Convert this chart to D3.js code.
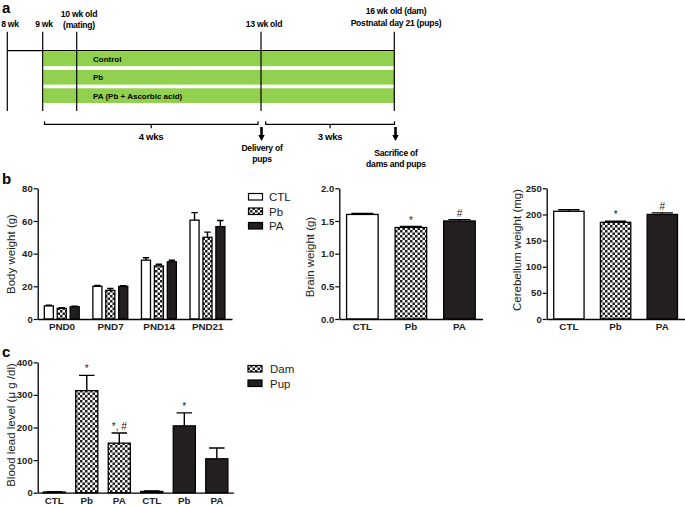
<!DOCTYPE html>
<html><head><meta charset="utf-8">
<script src="https://cdn.jsdelivr.net/npm/d3@7"></script>
<style>body{margin:0;background:#fff}svg{display:block}text{font-family:"Liberation Sans",Arial,sans-serif}</style>
</head><body><svg id="c" width="685" height="506"></svg>
<script>
// ---- data ----
const groups = ["CTL","Pb","PA"];
const pndDays = ["PND0","PND7","PND14","PND21"];
const bodyCTL = [8, 20, 36, 60.5];
const bodyPb  = [6.5, 17.5, 32.5, 50];
const bodyPA  = [7.5, 20, 35, 56.5];
const bodyErrCTL = [0.4, 0.5, 1.5, 4.6];
const bodyErrPb  = [0.4, 1.2, 1.0, 3.2];
const bodyErrPA  = [0.3, 0.4, 1.0, 3.8];
const brainVals = [1.6, 1.4, 1.5];
const brainErr  = [0.015, 0.015, 0.02];
const brainMarks = ["", "*", "#"];
const cereVals = [206, 185, 200];
const cereErr  = [3, 2, 3];
const cereMarks = ["", "*", "#"];
const leadCats = ["CTL","Pb","PA","CTL ","Pb ","PA "];
const leadSeries = ["Dam","Dam","Dam","Pup","Pup","Pup"];
const leadVals = [2, 313, 152, 4, 205, 104];
const leadErr  = [1, 47, 31, 1, 40, 33];
const leadMarks = ["", "*", "*, #", "", "*", ""];
const bodyTicks = [0,20,40,60,80];
const brainTicks = [0,0.5,1.0,1.5,2.0];
const cereTicks = [0,50,100,150,200,250];
const leadTicks = [0,100,200,300,400];

const svg = d3.select("#c");
const GREEN = "#92d050", DARK = "#231f20";
const defs = svg.append("defs");
const pat = defs.append("pattern").attr("id","chk").attr("patternUnits","userSpaceOnUse")
  .attr("width",5).attr("height",5);
pat.append("rect").attr("width",5).attr("height",5).attr("fill","#fff");
pat.append("rect").attr("width",2.5).attr("height",2.5).attr("fill",DARK);
pat.append("rect").attr("x",2.5).attr("y",2.5).attr("width",2.5).attr("height",2.5).attr("fill",DARK);
const fillFor = g => g==="CTL" ? "#fff" : g==="Pb" ? "url(#chk)" : DARK;

// ---- panel a: timeline ----
const A = svg.append("g");
A.append("text").attr("x",2).attr("y",13).attr("font-size",15).attr("font-weight","bold").text("a");
const vx = [7.3, 42.7, 76.7, 261, 394.3];
A.append("line").attr("x1",7.3).attr("x2",394.3).attr("y1",50.7).attr("y2",50.7).attr("stroke","#000").attr("stroke-width",1.2);
const bandNames = ["Control","Pb","PA (Pb + Ascorbic acid)"];
const bandY = d3.scaleBand().domain(bandNames).range([51.5,103]).paddingInner(0.2);
A.selectAll("rect.gb").data(bandNames).join("rect").attr("x",43.3).attr("width",394.3-43.3)
  .attr("y",d=>bandY(d)).attr("height",bandY.bandwidth()).attr("fill",GREEN);
A.selectAll("line.v").data(vx).join("line").attr("x1",d=>d).attr("x2",d=>d).attr("y1",31.7).attr("y2",111)
  .attr("stroke","#000").attr("stroke-width",1.2);
A.selectAll("text.bn").data(bandNames).join("text").attr("x",93).attr("y",d=>bandY(d)+bandY.bandwidth()/2+3)
  .attr("font-size",8).attr("font-weight","bold").text(d=>d);
const tl = [
  {x:10,y:27,t:"8 wk"},{x:44,y:27,t:"9 wk"},
  {x:79,y:17,t:"10 wk old"},{x:79,y:28,t:"(mating)"},
  {x:264,y:27,t:"13 wk old"},
  {x:396,y:14,t:"16 wk old (dam)"},{x:396,y:26,t:"Postnatal day 21 (pups)"},
  {x:151,y:140,t:"4 wks"},{x:330,y:140,t:"3 wks"},
  {x:262,y:151,t:"Delivery of"},{x:262,y:162,t:"pups"},
  {x:396,y:156,t:"Sacrifice of"},{x:396,y:167,t:"dams and pups"}];
A.selectAll("text.tl").data(tl).join("text").attr("x",d=>d.x).attr("y",d=>d.y).attr("text-anchor","middle")
  .attr("font-size",d=>(d.t.includes("wks")?9.5:8.6)).attr("font-weight","bold").attr("letter-spacing",-0.25).text(d=>d.t);
function bracket(x1,x2,y){
  const m=(x1+x2)/2;
  A.append("path").attr("d",`M${x1},${y-3}V${y}H${x2}V${y-3}M${m},${y}V${y+4}`).attr("fill","none").attr("stroke","#000").attr("stroke-width",1.2);
}
bracket(44.5,258,124.3); bracket(265.7,394.5,124.3);
function arrow(x){
  A.append("path").attr("d",`M${x-1.3},127V135H${x-3.2}L${x},141L${x+3.2},135H${x+1.3}V127Z`).attr("fill","#000");
}
arrow(261.5); arrow(395.5);

// ---- helpers ----
function yAxis(g, y, x0, ticks, fmt){
  const ax = d3.axisLeft(y).tickValues(ticks).tickSize(4).tickSizeOuter(0).tickFormat(fmt);
  const gg = g.append("g").attr("transform",`translate(${x0},0)`).call(ax);
  gg.attr("font-family",null);
  gg.select(".domain").attr("stroke-width",1.3);
  gg.selectAll(".tick line").attr("stroke-width",1.2);
  gg.selectAll("text").attr("font-size",9.5).attr("font-weight","bold").attr("fill","#222").attr("x",-5);
}
function xAxis(g, x, y0, labelY){
  const ax = d3.axisBottom(x).tickSize(0).tickSizeOuter(0);
  const gg = g.append("g").attr("transform",`translate(0,${y0})`).call(ax);
  gg.attr("font-family",null);
  gg.select(".domain").attr("stroke-width",1.3);
  gg.selectAll("text").attr("font-size",9.8).attr("font-weight","bold").attr("fill","#222").attr("dy",0).attr("y",labelY);
}
function yLabel(g,x,y,t){
  g.append("text").attr("transform",`translate(${x},${y}) rotate(-90)`).attr("text-anchor","middle").attr("font-size",11.5).attr("fill","#222").text(t);
}
function bar(g,x,w,y,v,e,fill){
  g.append("path").attr("d",`M${x+w/2},${y(v)}V${y(v+e)}M${x+w/2-w*0.35},${y(v+e)}H${x+w/2+w*0.35}`).attr("stroke","#000").attr("stroke-width",1.4).attr("fill","none");
  g.append("rect").attr("x",x).attr("width",w).attr("y",y(v)).attr("height",y(0)-y(v)).attr("fill",fill).attr("stroke","#000").attr("stroke-width",1.3);
}

// ---- panel b: body weight ----
const B = svg.append("g");
B.append("text").attr("x",2).attr("y",184).attr("font-size",15).attr("font-weight","bold").text("b");
const yb = d3.scaleLinear().domain([0,80]).range([319,188.3]);
const xg = d3.scaleBand().domain(pndDays).range([37.7,232]).padding(0);
const xi = d3.scaleBand().domain(groups).range([6.6,41.5]).paddingInner(0.3);
const bodyData = {CTL:[bodyCTL,bodyErrCTL],Pb:[bodyPb,bodyErrPb],PA:[bodyPA,bodyErrPA]};
pndDays.forEach((d,i)=>groups.forEach(gname=>{
  bar(B, xg(d)+xi(gname), xi.bandwidth(), yb, bodyData[gname][0][i], bodyData[gname][1][i], fillFor(gname));
}));
yAxis(B,yb,37.7,bodyTicks,d3.format("d"));
xAxis(B,xg,319,11);
yLabel(B,15,254,"Body weight (g)");
const lg = B.append("g");
groups.forEach((gname,i)=>{
  lg.append("rect").attr("x",248.5).attr("y",193.5+i*14.5).attr("width",14).attr("height",6.5).attr("fill",fillFor(gname)).attr("stroke","#000").attr("stroke-width",1.2);
  lg.append("text").attr("x",269).attr("y",201+i*14.5).attr("font-size",11.5).attr("fill","#222").text(gname);
});

// brain
const yBr = d3.scaleLinear().domain([0,2]).range([319,188.3]);
const xBr = d3.scaleBand().domain(groups).range([339.3,482.5]).paddingInner(0.35).paddingOuter(0.15);
groups.forEach((gname,i)=>{
  bar(B,xBr(gname),xBr.bandwidth(),yBr,brainVals[i],brainErr[i],fillFor(gname));
  if(brainMarks[i]) B.append("text").attr("x",xBr(gname)+xBr.bandwidth()/2).attr("y",yBr(brainVals[i]+brainErr[i])-3).attr("text-anchor","middle").attr("font-size",10).attr("fill","#222").text(brainMarks[i]);
});
yAxis(B,yBr,339.3,brainTicks,d3.format(".1f"));
xAxis(B,xBr,319,11);
yLabel(B,314,257,"Brain weight (g)");

// cerebellum
const yCe = d3.scaleLinear().domain([0,250]).range([319,188.3]);
const xCe = d3.scaleBand().domain(groups).range([546.7,684.5]).paddingInner(0.35).paddingOuter(0.15);
groups.forEach((gname,i)=>{
  bar(B,xCe(gname),xCe.bandwidth(),yCe,cereVals[i],cereErr[i],fillFor(gname));
  if(cereMarks[i]) B.append("text").attr("x",xCe(gname)+xCe.bandwidth()/2).attr("y",yCe(cereVals[i]+cereErr[i])-3).attr("text-anchor","middle").attr("font-size",10).attr("fill","#222").text(cereMarks[i]);
});
yAxis(B,yCe,546.7,cereTicks,d3.format("d"));
xAxis(B,xCe,319,11);
yLabel(B,521,250,"Cerebellum weight (mg)");

// ---- panel c ----
const C = svg.append("g");
C.append("text").attr("x",2).attr("y",357).attr("font-size",15).attr("font-weight","bold").text("c");
const yc = d3.scaleLinear().domain([0,400]).range([492.7,362.3]);
const xc = d3.scaleBand().domain(leadCats).range([37.7,233.4]).paddingInner(0.32).paddingOuter(0.17);
leadCats.forEach((c,i)=>{
  bar(C,xc(c),xc.bandwidth(),yc,leadVals[i],leadErr[i], leadSeries[i]==="Dam"?"url(#chk)":DARK);
  if(leadMarks[i]) C.append("text").attr("x",xc(c)+xc.bandwidth()/2).attr("y",yc(leadVals[i]+leadErr[i])-3).attr("text-anchor","middle").attr("font-size",10).attr("fill","#222").text(leadMarks[i]);
});
yAxis(C,yc,37.7,leadTicks,d3.format("d"));
xAxis(C,xc,492.7,11);
yLabel(C,15,425,"Blood lead level (μ g /dl)");
["Dam","Pup"].forEach((s,i)=>{
  C.append("rect").attr("x",248).attr("y",365.5+i*14.5).attr("width",14).attr("height",6.5).attr("fill",s==="Dam"?"url(#chk)":DARK).attr("stroke","#000").attr("stroke-width",1.2);
  C.append("text").attr("x",270).attr("y",373+i*14.5).attr("font-size",11.5).attr("fill","#222").text(s);
});
</script></body></html>
